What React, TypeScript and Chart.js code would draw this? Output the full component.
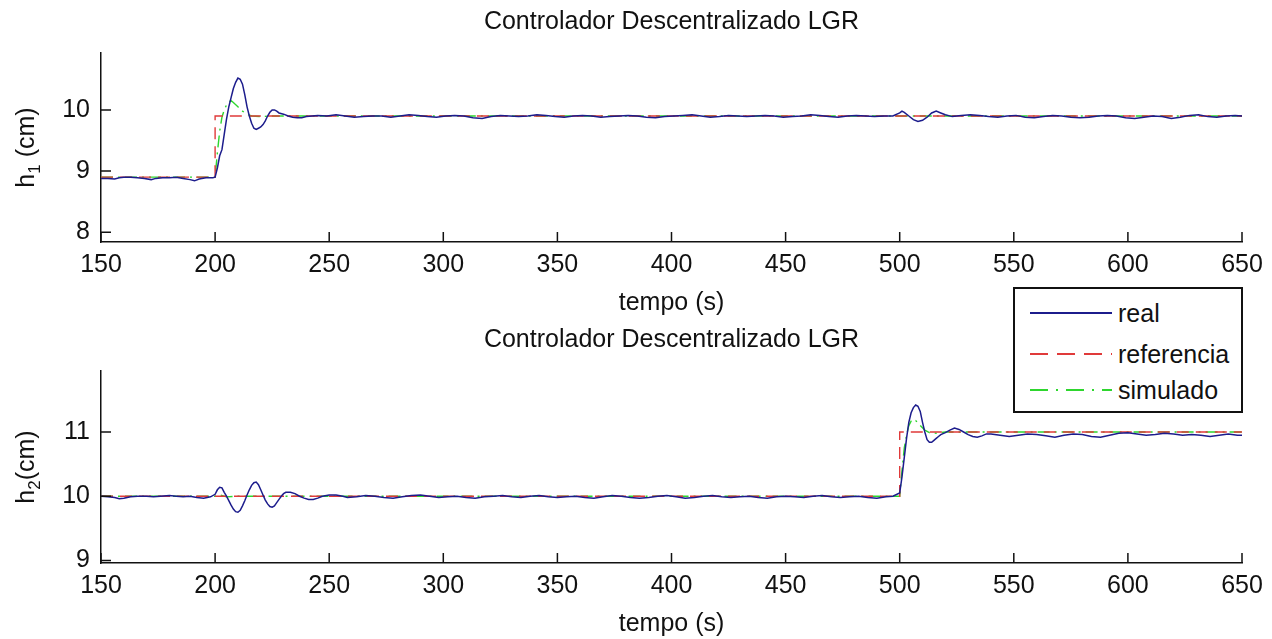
import React, { useEffect, useRef } from "react";
import { Chart, registerables } from "chart.js";

Chart.register(...registerables);

// ---------- data ----------
const xTicks = [150, 200, 250, 300, 350, 400, 450, 500, 550, 600, 650];
const yTicksTop = [8, 9, 10];
const yTicksBottom = [9, 10, 11];
const xRange = [150, 650];
const yRangeTop = [7.84, 10.93];
const yRangeBottom = [8.96, 11.95];

const chartTitle = "Controlador Descentralizado LGR";
const xLabel = "tempo (s)";
const legendLabels = ["real", "referencia", "simulado"];

const h1Ref: [number, number][] = [[150, 8.9], [200, 8.9], [200, 9.9], [650, 9.9]];
const h1Sim: [number, number][] = [
  [150, 8.9], [200, 8.9], [201, 9.3], [202, 9.65], [203, 9.88], [204, 10.0], [205, 10.08],
  [206, 10.13], [207, 10.15], [208, 10.12], [210, 10.05], [212, 9.98], [214, 9.93],
  [216, 9.9], [220, 9.89], [225, 9.9], [650, 9.9],
];
const h1Real: [number, number][] = [
  [150, 8.88], [153, 8.88], [156, 8.87], [158, 8.89], [160, 8.9], [163, 8.9], [166, 8.89],
  [169, 8.88], [172, 8.86], [174, 8.88], [177, 8.89], [180, 8.89], [183, 8.9], [186, 8.88],
  [189, 8.86], [191, 8.84], [193, 8.87], [196, 8.89], [199, 8.89], [200, 8.9], [201, 9.05],
  [202, 9.25], [203, 9.35], [204, 9.6], [205, 9.85], [206, 10.05], [207, 10.2], [208, 10.35],
  [209, 10.45], [210, 10.52], [211, 10.5], [212, 10.42], [213, 10.25], [214, 10.05],
  [215, 9.9], [216, 9.78], [217, 9.7], [218, 9.68], [219, 9.7], [220, 9.72], [221, 9.76],
  [222, 9.82], [223, 9.9], [224, 9.96], [225, 10.0], [226, 10.0], [227, 9.98], [228, 9.95],
  [230, 9.93], [232, 9.9], [234, 9.88], [236, 9.87], [238, 9.87], [240, 9.89],
  [245, 9.91], [249, 9.9], [253, 9.92], [257, 9.9], [261, 9.88], [265, 9.89], [269, 9.9],
  [273, 9.9], [277, 9.88], [281, 9.9], [285, 9.92], [289, 9.91], [293, 9.89], [297, 9.88],
  [301, 9.9], [305, 9.91], [309, 9.9], [313, 9.87], [317, 9.86], [321, 9.89], [325, 9.91],
  [329, 9.9], [333, 9.89], [337, 9.9], [341, 9.92], [345, 9.91], [349, 9.89], [353, 9.88],
  [357, 9.9], [361, 9.91], [365, 9.9], [369, 9.88], [373, 9.89], [377, 9.9], [381, 9.91],
  [385, 9.9], [389, 9.88], [393, 9.87], [397, 9.89], [401, 9.9], [405, 9.91], [409, 9.92],
  [413, 9.9], [417, 9.88], [421, 9.89], [425, 9.91], [429, 9.9], [433, 9.89], [437, 9.9],
  [441, 9.91], [445, 9.9], [449, 9.88], [453, 9.89], [457, 9.9], [461, 9.92], [465, 9.91],
  [469, 9.89], [473, 9.88], [477, 9.9], [481, 9.91], [485, 9.9], [489, 9.89], [493, 9.9],
  [497, 9.9], [500, 9.95], [501, 9.98], [502, 9.96], [504, 9.9], [506, 9.84], [508, 9.81],
  [510, 9.83], [512, 9.88], [514, 9.95], [516, 9.98], [518, 9.95], [520, 9.92], [523, 9.89],
  [527, 9.91], [531, 9.92], [535, 9.91], [539, 9.89], [543, 9.88], [547, 9.9], [551, 9.91],
  [555, 9.88], [559, 9.87], [563, 9.89], [567, 9.91], [571, 9.9], [575, 9.88], [579, 9.87],
  [583, 9.88], [587, 9.9], [591, 9.91], [595, 9.9], [599, 9.87], [603, 9.86], [607, 9.88],
  [611, 9.9], [615, 9.89], [619, 9.86], [623, 9.88], [627, 9.91], [631, 9.92], [635, 9.89],
  [639, 9.88], [643, 9.9], [647, 9.91], [650, 9.9],
];

const h2Ref: [number, number][] = [[150, 10], [500, 10], [500, 11], [650, 11]];
const h2Sim: [number, number][] = [
  [150, 10], [200, 10], [202, 10.02], [205, 9.99], [210, 10.0], [500, 10], [501, 10.4],
  [502, 10.75], [503, 10.95], [504, 11.1], [505, 11.17], [506, 11.2], [507, 11.18],
  [509, 11.1], [511, 11.03], [513, 10.99], [516, 10.98], [520, 11.0], [650, 11.0],
];
const h2Real: [number, number][] = [
  [150, 10.0], [153, 9.99], [156, 9.98], [158, 9.96], [160, 9.97], [163, 9.99], [166, 10.0],
  [170, 10.0], [173, 9.99], [176, 10.0], [180, 10.01], [183, 10.0], [186, 9.99], [189, 10.0],
  [192, 9.98], [195, 9.97], [198, 9.99], [200, 10.03], [201, 10.1], [202, 10.14], [203, 10.13],
  [204, 10.06], [205, 10.0], [206, 9.93], [207, 9.86], [208, 9.8], [209, 9.76], [210, 9.75],
  [211, 9.78], [212, 9.85], [213, 9.93], [214, 10.02], [215, 10.1], [216, 10.17], [217, 10.21],
  [218, 10.22], [219, 10.18], [220, 10.1], [221, 10.02], [222, 9.94], [223, 9.88], [224, 9.84],
  [225, 9.83], [226, 9.85], [227, 9.9], [228, 9.95], [229, 10.0], [230, 10.04], [231, 10.06],
  [233, 10.06], [235, 10.04], [237, 10.0], [239, 9.97], [241, 9.95], [243, 9.95], [245, 9.97],
  [247, 10.0], [250, 10.02], [253, 10.02], [256, 10.0], [258, 9.98], [262, 9.99], [266, 10.01],
  [270, 10.0], [274, 9.98], [278, 9.97], [282, 9.99], [286, 10.01], [290, 10.02], [294, 10.0],
  [298, 9.98], [302, 9.99], [306, 10.0], [310, 9.98], [314, 9.97], [318, 9.99], [322, 10.0],
  [326, 10.01], [330, 9.99], [334, 9.98], [338, 10.0], [342, 10.01], [346, 9.99], [350, 9.98],
  [354, 9.99], [358, 10.0], [362, 9.98], [366, 9.97], [370, 9.99], [374, 10.01], [378, 10.0],
  [382, 9.98], [386, 9.97], [390, 9.98], [394, 10.0], [398, 10.01], [402, 9.99], [406, 9.97],
  [410, 9.98], [414, 10.0], [418, 10.01], [422, 9.99], [426, 9.98], [430, 9.99], [434, 10.0],
  [438, 9.98], [442, 9.97], [446, 9.99], [450, 10.0], [454, 9.99], [458, 9.98], [462, 10.0],
  [466, 10.01], [470, 9.99], [474, 9.98], [478, 9.99], [482, 10.0], [486, 9.98], [490, 9.97],
  [494, 9.99], [497, 10.0], [500, 10.05], [501, 10.3], [502, 10.6], [503, 10.9], [504, 11.15],
  [505, 11.3], [506, 11.38], [507, 11.42], [508, 11.4], [509, 11.32], [510, 11.15], [511, 11.0],
  [512, 10.88], [513, 10.84], [514, 10.84], [515, 10.87], [516, 10.9], [517, 10.93],
  [518, 10.96], [520, 10.99], [522, 11.03], [524, 11.06], [526, 11.04], [528, 11.0],
  [530, 10.96], [532, 10.93], [534, 10.92], [536, 10.94], [538, 10.97], [540, 10.97],
  [544, 10.95], [548, 10.93], [552, 10.95], [556, 10.97], [560, 10.96], [564, 10.94],
  [568, 10.92], [572, 10.95], [576, 10.97], [580, 10.96], [584, 10.93], [588, 10.92],
  [592, 10.95], [596, 10.98], [600, 10.99], [604, 10.97], [608, 10.95], [612, 10.96],
  [616, 10.98], [620, 10.97], [624, 10.95], [628, 10.96], [632, 10.95], [636, 10.93],
  [640, 10.95], [644, 10.97], [648, 10.95], [650, 10.95],
];

// ---------- styles ----------
const FONT = '"Liberation Sans", Arial, sans-serif';
const INK = "#111111";
const COLOR_REAL = "#1c1c8c";
const COLOR_REF = "#e03a3a";
const COLOR_SIM = "#2ed62e";
const DASH_REF = [12, 7];
const DASH_SIM = [12, 5, 2, 5];

const matlabPlugin = {
  id: "matlab",
  afterDraw(chart: any, _args: any, opts: any) {
    const { ctx, chartArea, scales } = chart;
    const { left, right, top, bottom } = chartArea;
    ctx.save();
    ctx.strokeStyle = INK;
    ctx.lineWidth = 1.5;
    ctx.beginPath();
    scales.x.ticks.forEach((t: any) => {
      const px = scales.x.getPixelForValue(t.value);
      ctx.moveTo(px, bottom);
      ctx.lineTo(px, bottom - 10);
    });
    scales.y.ticks.forEach((t: any) => {
      const py = scales.y.getPixelForValue(t.value);
      ctx.moveTo(left, py);
      ctx.lineTo(left + 10, py);
    });
    ctx.stroke();

    ctx.fillStyle = INK;
    ctx.font = `25px ${FONT}`;
    ctx.textAlign = "center";
    ctx.textBaseline = "middle";
    ctx.fillText(opts.title, (left + right) / 2, top - 31);
    ctx.fillText(opts.xLabel, (left + right) / 2, bottom + 61);

    // y label with subscript, rotated
    ctx.translate(25, (top + bottom) / 2);
    ctx.rotate(-Math.PI / 2);
    ctx.textAlign = "left";
    ctx.textBaseline = "alphabetic";
    const big = `25px ${FONT}`;
    const small = `17px ${FONT}`;
    ctx.font = big;
    const wBase = ctx.measureText(opts.yBase).width;
    const wRest = ctx.measureText(opts.yRest).width;
    ctx.font = small;
    const wSub = ctx.measureText(opts.ySub).width;
    const total = wBase + wSub + wRest;
    let x = -total / 2;
    const baseY = 9;
    ctx.font = big;
    ctx.fillText(opts.yBase, x, baseY);
    x += wBase;
    ctx.font = small;
    ctx.fillText(opts.ySub, x, baseY + 6);
    x += wSub;
    ctx.font = big;
    ctx.fillText(opts.yRest, x, baseY);
    ctx.restore();
  },
};

function makeConfig(
  real: [number, number][],
  ref: [number, number][],
  sim: [number, number][],
  yRange: number[],
  yTicks: number[],
  padTop: number,
  xHeight: number,
  yBase: string,
  ySub: string,
  yRest: string
): any {
  const line = (label: string, data: any, color: string, dash: number[], w: number) => ({
    label,
    data,
    borderColor: color,
    backgroundColor: color,
    borderWidth: w,
    borderDash: dash,
    pointRadius: 0,
    fill: false,
    tension: 0,
  });
  const tickFont = { family: FONT, size: 25 };
  return {
    type: "line",
    data: {
      datasets: [
        line(legendLabels[0], real, COLOR_REAL, [], 1.5),
        line(legendLabels[1], ref, COLOR_REF, DASH_REF, 1.4),
        line(legendLabels[2], sim, COLOR_SIM, DASH_SIM, 1.4),
      ],
    },
    options: {
      animation: false,
      responsive: false,
      devicePixelRatio: 1,
      layout: { padding: { left: 0, right: 30, top: padTop, bottom: 0 } },
      plugins: {
        legend: { display: false },
        tooltip: { enabled: false },
        title: { display: false },
        matlab: { title: chartTitle, xLabel, yBase, ySub, yRest },
      },
      scales: {
        x: {
          type: "linear",
          min: xRange[0],
          max: xRange[1],
          afterBuildTicks: (s: any) => {
            s.ticks = xTicks.map((v) => ({ value: v }));
          },
          afterFit: (s: any) => {
            s.height = xHeight;
          },
          grid: { display: false, drawTicks: false },
          border: { display: true, color: INK, width: 1.5 },
          ticks: { padding: 8, color: INK, font: tickFont, maxRotation: 0, autoSkip: false },
        },
        y: {
          type: "linear",
          min: yRange[0],
          max: yRange[1],
          afterBuildTicks: (s: any) => {
            s.ticks = yTicks.map((v) => ({ value: v }));
          },
          afterFit: (s: any) => {
            s.width = 101;
          },
          grid: { display: false, drawTicks: false },
          border: { display: true, color: INK, width: 1.5 },
          ticks: { padding: 11, color: INK, font: tickFont, autoSkip: false },
        },
      },
    },
    plugins: [matlabPlugin],
  };
}

function LegendRow({ top, label, color, dash }: { top: number; label: string; color: string; dash: string }) {
  return (
    <div style={{ position: "absolute", left: 0, top: top - 15, width: 226, height: 30 }}>
      <svg width={100} height={30} style={{ position: "absolute", left: 13, top: 0 }}>
        <line x1={2} y1={15} x2={84} y2={15} stroke={color} strokeWidth={2} strokeDasharray={dash} />
      </svg>
      <span
        style={{
          position: "absolute",
          left: 103,
          top: 0,
          lineHeight: "30px",
          fontFamily: FONT,
          fontSize: 25,
          color: INK,
          whiteSpace: "nowrap",
        }}
      >
        {label}
      </span>
    </div>
  );
}

export default function App() {
  const topRef = useRef<HTMLCanvasElement | null>(null);
  const botRef = useRef<HTMLCanvasElement | null>(null);

  useEffect(() => {
    const c1 = new Chart(
      topRef.current as HTMLCanvasElement,
      makeConfig(h1Real, h1Ref, h1Sim, yRangeTop, yTicksTop, 53, 78, "h", "1", " (cm)")
    );
    const c2 = new Chart(
      botRef.current as HTMLCanvasElement,
      makeConfig(h2Real, h2Ref, h2Sim, yRangeBottom, yTicksBottom, 51, 76, "h", "2", "(cm)")
    );
    return () => {
      c1.destroy();
      c2.destroy();
    };
  }, []);

  return (
    <div style={{ position: "absolute", left: 0, top: 0, width: 1272, height: 639, background: "#fff", overflow: "hidden" }}>
      <canvas ref={topRef} width={1272} height={320} style={{ position: "absolute", left: 0, top: 0, display: "block" }} />
      <canvas ref={botRef} width={1272} height={319} style={{ position: "absolute", left: 0, top: 320, display: "block" }} />
      <div
        style={{
          position: "absolute",
          left: 1013,
          top: 287,
          width: 230,
          height: 126,
          boxSizing: "border-box",
          border: `2px solid ${INK}`,
          background: "#fff",
        }}
      >
        <LegendRow top={24} label={legendLabels[0]} color={COLOR_REAL} dash="none" />
        <LegendRow top={65} label={legendLabels[1]} color={COLOR_REF} dash="18 9" />
        <LegendRow top={101} label={legendLabels[2]} color={COLOR_SIM} dash="18 8 2 8" />
      </div>
    </div>
  );
}
